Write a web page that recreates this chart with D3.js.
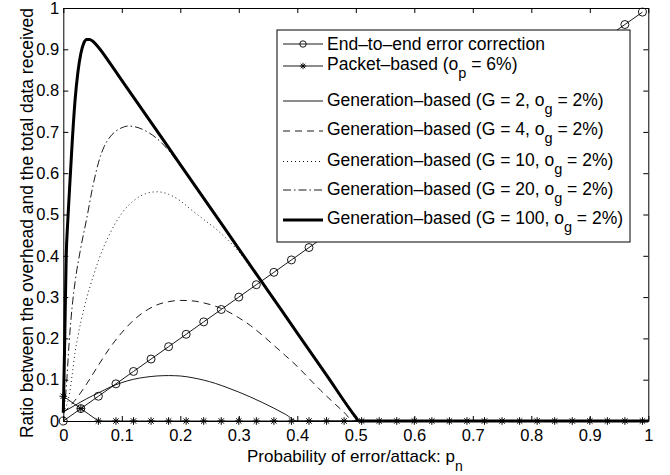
<!DOCTYPE html>
<html>
<head>
<meta charset="utf-8">
<script src="https://cdn.jsdelivr.net/npm/d3@7"></script>
<style>
  body { margin: 0; background: #fff; }
  text { font-family: "Liberation Sans", Arial, Helvetica, sans-serif; fill: #000; }
</style>
</head>
<body>
<svg id="chart" width="670" height="475"></svg>
<script>
// ---- data ----
var pMarks = [0, 0.03, 0.06, 0.09, 0.12, 0.15, 0.18, 0.21, 0.24, 0.27, 0.3, 0.33, 0.36, 0.39, 0.42, 0.45, 0.48,
              0.51, 0.54, 0.57, 0.6, 0.63, 0.66, 0.69, 0.72, 0.75, 0.78, 0.81, 0.84, 0.87, 0.9, 0.93, 0.96, 0.99];
var e2eRatio = [0, 0.03, 0.06, 0.09, 0.12, 0.15, 0.18, 0.21, 0.24, 0.27, 0.3, 0.33, 0.36, 0.39, 0.42, 0.45, 0.48,
                0.51, 0.54, 0.57, 0.6, 0.63, 0.66, 0.69, 0.72, 0.75, 0.78, 0.81, 0.84, 0.87, 0.9, 0.93, 0.96, 0.99];
var packetRatio = [0.06, 0.03, 0, 0, 0, 0, 0, 0, 0, 0, 0, 0, 0, 0, 0, 0, 0,
                   0, 0, 0, 0, 0, 0, 0, 0, 0, 0, 0, 0, 0, 0, 0, 0, 0];

var g2P = [0, 0.02, 0.04, 0.06, 0.08, 0.1, 0.12, 0.14, 0.16, 0.18, 0.2, 0.22, 0.24, 0.26, 0.28, 0.3, 0.32, 0.34, 0.36, 0.38, 0.4, 1];
var g2Ratio = [0.022, 0.038, 0.054, 0.068, 0.082, 0.093, 0.101, 0.106, 0.109, 0.110, 0.109, 0.105, 0.099, 0.091, 0.081, 0.070, 0.058, 0.045, 0.031, 0.016, 0, 0];

var g4P = [0, 0.01, 0.02, 0.04, 0.06, 0.08, 0.1, 0.12, 0.14, 0.16, 0.18, 0.2, 0.22, 0.24, 0.26, 0.28, 0.3, 0.32, 0.34, 0.36, 0.38, 0.4, 0.42, 0.44, 0.46, 0.48, 0.496, 1];
var g4Ratio = [0.02, 0.034, 0.05, 0.09, 0.135, 0.178, 0.214, 0.244, 0.266, 0.281, 0.289, 0.292, 0.291, 0.286, 0.278, 0.266, 0.25, 0.231, 0.208, 0.183, 0.158, 0.132, 0.103, 0.074, 0.047, 0.021, 0, 0];

var g10P = [0, 0.005, 0.01, 0.015, 0.02, 0.025, 0.03, 0.04, 0.05, 0.06, 0.08, 0.1, 0.12, 0.14, 0.16, 0.18, 0.2, 0.22, 0.24, 0.26, 0.28, 0.3, 0.32, 0.34, 0.36, 0.38, 0.4, 0.42, 0.44, 0.46, 0.48, 0.5, 0.503, 1];
var g10Ratio = [0.02, 0.035, 0.062, 0.11, 0.165, 0.205, 0.24, 0.298, 0.345, 0.388, 0.455, 0.503, 0.533, 0.55, 0.555, 0.549, 0.533, 0.51, 0.488, 0.466, 0.44, 0.41, 0.372, 0.332, 0.292, 0.251, 0.21, 0.169, 0.128, 0.087, 0.046, 0.005, 0, 0];

var g20P = [0, 0.005, 0.01, 0.015, 0.02, 0.03, 0.04, 0.05, 0.06, 0.07, 0.08, 0.09, 0.1, 0.11, 0.12, 0.14, 0.16, 0.18, 0.2, 0.22, 0.25, 0.3, 0.35, 0.4, 0.45, 0.5, 0.504, 1];
var g20Ratio = [0.02, 0.08, 0.19, 0.275, 0.335, 0.42, 0.49, 0.565, 0.625, 0.665, 0.688, 0.702, 0.71, 0.714, 0.713, 0.703, 0.684, 0.655, 0.618, 0.578, 0.517, 0.415, 0.313, 0.211, 0.109, 0.007, 0, 0];

var g100P = [0, 0.0025, 0.005, 0.0075, 0.01, 0.015, 0.02, 0.025, 0.03, 0.035, 0.04, 0.045, 0.05, 0.06, 0.08, 0.1, 0.15, 0.2, 0.25, 0.3, 0.35, 0.4, 0.45, 0.5, 0.505, 1];
var g100Ratio = [0.02, 0.2, 0.4, 0.48, 0.545, 0.67, 0.775, 0.845, 0.89, 0.915, 0.924, 0.924, 0.92, 0.905, 0.866, 0.825, 0.723, 0.621, 0.519, 0.417, 0.315, 0.213, 0.111, 0.009, 0, 0];

var tickValues = [0, 0.1, 0.2, 0.3, 0.4, 0.5, 0.6, 0.7, 0.8, 0.9, 1];
var tickLabels = ["0", "0.1", "0.2", "0.3", "0.4", "0.5", "0.6", "0.7", "0.8", "0.9", "1"];

// legend entries: [text, subscript, rest]
var legendLabels = [
  ["End\u2013to\u2013end error correction", "", ""],
  ["Packet\u2013based (o", "p", " = 6%)"],
  ["Generation\u2013based (G = 2, o", "g", " = 2%)"],
  ["Generation\u2013based (G = 4, o", "g", " = 2%)"],
  ["Generation\u2013based (G = 10, o", "g", " = 2%)"],
  ["Generation\u2013based (G = 20, o", "g", " = 2%)"],
  ["Generation\u2013based (G = 100, o", "g", " = 2%)"]
];

// ---- layout ----
var plotLeft = 63.3, plotRight = 648.3, plotTop = 8, plotBottom = 421;
var svg = d3.select("#chart");

var x = d3.scaleLinear().domain([0, 1]).range([plotLeft, plotRight]);
var y = d3.scaleLinear().domain([0, 1]).range([plotBottom, plotTop]);

function zip(a, b) { return a.map(function(v, i) { return [v, b[i]]; }); }

// axes (ticks inward, box all round)
var fmt = function(d) { return tickLabels[tickValues.indexOf(d)]; };
svg.append("g").attr("transform", "translate(0," + plotBottom + ")")
   .call(d3.axisBottom(x).tickValues(tickValues).tickFormat(fmt).tickSizeInner(-5).tickSizeOuter(0).tickPadding(8));
svg.append("g").attr("transform", "translate(0," + plotTop + ")")
   .call(d3.axisTop(x).tickValues(tickValues).tickFormat("").tickSizeInner(-5).tickSizeOuter(0));
svg.append("g").attr("transform", "translate(" + plotLeft + ",0)")
   .call(d3.axisLeft(y).tickValues(tickValues).tickFormat(fmt).tickSizeInner(-5).tickSizeOuter(0).tickPadding(4));
svg.append("g").attr("transform", "translate(" + plotRight + ",0)")
   .call(d3.axisRight(y).tickValues(tickValues).tickFormat("").tickSizeInner(-5).tickSizeOuter(0));
svg.selectAll(".tick text").attr("font-size", "16.5px").attr("font-family", "Liberation Sans, Arial, sans-serif");
svg.selectAll(".domain, .tick line").attr("stroke", "#000").attr("stroke-width", 1);

// ---- series ----
var smooth = d3.line().x(function(d) { return x(d[0]); }).y(function(d) { return y(d[1]); }).curve(d3.curveMonotoneX);
var straight = d3.line().x(function(d) { return x(d[0]); }).y(function(d) { return y(d[1]); });

var plot = svg.append("g").attr("fill", "none").attr("stroke", "#000");

plot.append("path").attr("d", straight(zip(pMarks, e2eRatio))).attr("stroke-width", 0.9);
plot.selectAll("circle.e2e").data(zip(pMarks, e2eRatio)).enter().append("circle")
    .attr("cx", function(d) { return x(d[0]); }).attr("cy", function(d) { return y(d[1]); })
    .attr("r", 4).attr("stroke-width", 0.9);

plot.append("path").attr("d", straight(zip(pMarks, packetRatio))).attr("stroke-width", 0.9);
function star(cx, cy, s) {
  var a = s * 0.7071;
  return "M" + (cx - s) + "," + cy + "H" + (cx + s) + "M" + cx + "," + (cy - s) + "V" + (cy + s) +
         "M" + (cx - a) + "," + (cy - a) + "L" + (cx + a) + "," + (cy + a) +
         "M" + (cx - a) + "," + (cy + a) + "L" + (cx + a) + "," + (cy - a);
}
plot.selectAll("path.star").data(zip(pMarks, packetRatio)).enter().append("path")
    .attr("d", function(d) { return star(x(d[0]), y(d[1]), 3.8); }).attr("stroke-width", 1);

var genSeries = [
  {p: g2P, r: g2Ratio, w: 0.9, dash: null},
  {p: g4P, r: g4Ratio, w: 0.9, dash: "7,5"},
  {p: g10P, r: g10Ratio, w: 0.9, dash: "1,3"},
  {p: g20P, r: g20Ratio, w: 0.9, dash: "8,3,1.5,3"},
  {p: g100P, r: g100Ratio, w: 3, dash: null}
];
genSeries.forEach(function(s) {
  plot.append("path").attr("d", smooth(zip(s.p, s.r)))
      .attr("stroke-width", s.w).attr("stroke-dasharray", s.dash);
});

// ---- legend ----
var lg = svg.append("g");
lg.append("rect").attr("x", 277).attr("y", 30).attr("width", 353).attr("height", 212)
  .attr("fill", "#fff").attr("stroke", "#000").attr("stroke-width", 1);
var lineY = [44, 66, 101, 131, 161.5, 190, 220];
var textY = [43.5, 64, 100, 129, 160, 188.5, 218];
var styles = [
  {w: 0.9, dash: null, mark: "circle"},
  {w: 0.9, dash: null, mark: "star"},
  {w: 0.9, dash: null},
  {w: 0.9, dash: "7,5"},
  {w: 0.9, dash: "1,3"},
  {w: 0.9, dash: "8,3,1.5,3"},
  {w: 3, dash: null}
];
legendLabels.forEach(function(lab, i) {
  var st = styles[i];
  lg.append("line").attr("x1", 283).attr("x2", 323).attr("y1", lineY[i]).attr("y2", lineY[i])
    .attr("stroke", "#000").attr("stroke-width", st.w).attr("stroke-dasharray", st.dash);
  if (st.mark === "circle") {
    lg.append("circle").attr("cx", 303).attr("cy", lineY[i]).attr("r", 3.2)
      .attr("fill", "none").attr("stroke", "#000").attr("stroke-width", 0.9);
  } else if (st.mark === "star") {
    lg.append("path").attr("d", star(303, lineY[i], 3.2)).attr("stroke", "#000").attr("stroke-width", 0.9);
  }
  var t = lg.append("text").attr("x", 327).attr("y", textY[i] + 6).attr("font-size", "17.5px");
  t.append("tspan").text(lab[0]);
  if (lab[1]) {
    t.append("tspan").attr("dy", 8).attr("font-size", "14.5px").text(lab[1]);
    t.append("tspan").attr("dy", -8).text(lab[2]);
  }
});

// ---- axis labels ----
var xl = svg.append("text").attr("x", 247).attr("y", 462).attr("font-size", "17px");
xl.append("tspan").text("Probability of error/attack: p");
xl.append("tspan").attr("dy", 9).attr("font-size", "14px").text("n");

svg.append("text").attr("transform", "translate(33,223) rotate(-90)")
   .attr("text-anchor", "middle").attr("font-size", "17.5px")
   .text("Ratio between the overhead and the total data received");
</script>
</body>
</html>
